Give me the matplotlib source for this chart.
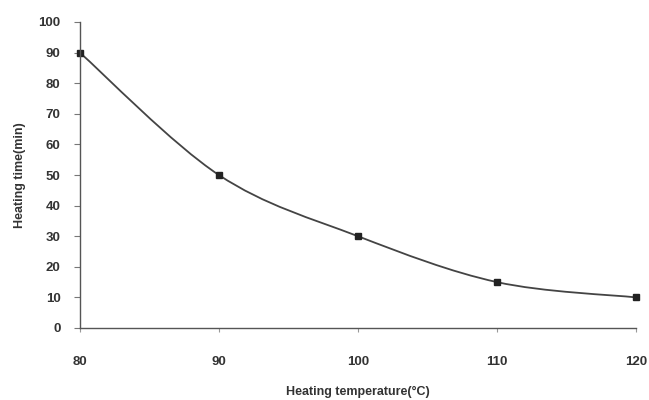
import matplotlib
matplotlib.use('Agg')
import matplotlib.pyplot as plt
import numpy as np
from matplotlib.path import Path
from matplotlib.patches import PathPatch

temps = [80, 90, 100, 110, 120]
times = [90, 50, 30, 15, 10]

plt.rcParams['font.family'] = ['Liberation Sans', 'DejaVu Sans']

fig = plt.figure(figsize=(6.49, 4), dpi=100)
ax = fig.add_axes([0.123, 0.18, 0.857, 0.765])

# smooth line like the spreadsheet "smoothed line" option (Catmull-Rom as bezier)
x = np.array(temps, dtype=float)
y = np.array(times, dtype=float)
verts = [(x[0], y[0])]
codes = [Path.MOVETO]
for i in range(len(x) - 1):
    x0, y0 = (x[i - 1], y[i - 1]) if i > 0 else (x[i], y[i])
    x3, y3 = (x[i + 2], y[i + 2]) if i + 2 < len(x) else (x[i + 1], y[i + 1])
    c1 = (x[i] + (x[i + 1] - x0) / 6, y[i] + (y[i + 1] - y0) / 6)
    c2 = (x[i + 1] - (x3 - x[i]) / 6, y[i + 1] - (y3 - y[i]) / 6)
    verts += [c1, c2, (x[i + 1], y[i + 1])]
    codes += [Path.CURVE4] * 3
ax.add_patch(PathPatch(Path(verts, codes), fill=False, edgecolor='#444444', lw=1.3))
ax.plot(temps, times, linestyle='none', marker='s', markersize=5, color='#222222', clip_on=False)

ax.set_xlim(80, 120)
ax.set_ylim(0, 100)
ax.set_xticks(temps)
ax.set_yticks(range(0, 101, 10))
for s in ['top', 'right']:
    ax.spines[s].set_visible(False)
for s in ['left', 'bottom']:
    ax.spines[s].set_color('#555555')
    ax.spines[s].set_linewidth(1.0)
ax.tick_params(axis='y', direction='out', length=4, width=0.8, color='#777777', pad=10,
               labelsize=9.5, labelcolor='#333333')
ax.tick_params(axis='x', direction='out', length=3, width=0.8, color='#999999', pad=17,
               labelsize=9.5, labelcolor='#333333')
for lab in ax.get_xticklabels() + ax.get_yticklabels():
    lab.set_fontweight('bold')

ax.set_xlabel('Heating temperature(°C)', fontsize=9, fontweight='bold', color='#333333', labelpad=13)
ax.set_ylabel('Heating time(min)', fontsize=9, fontweight='bold', color='#333333', labelpad=9)

fig.savefig('out.png', dpi=100)
